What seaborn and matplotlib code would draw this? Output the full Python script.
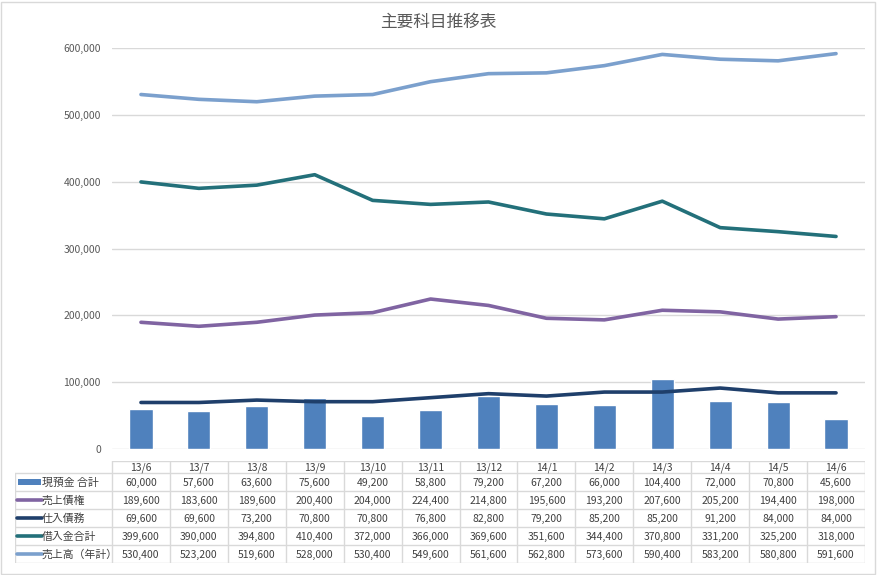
import numpy as np
import pandas as pd
import matplotlib
matplotlib.use("Agg")
import matplotlib.pyplot as plt
import seaborn as sns
from matplotlib.patches import Rectangle
from matplotlib.lines import Line2D

months = ["13/6", "13/7", "13/8", "13/9", "13/10", "13/11", "13/12",
          "14/1", "14/2", "14/3", "14/4", "14/5", "14/6"]
cash = [60000, 57600, 63600, 75600, 49200, 58800, 79200,
        67200, 66000, 104400, 72000, 70800, 45600]
receivables = [189600, 183600, 189600, 200400, 204000, 224400, 214800,
               195600, 193200, 207600, 205200, 194400, 198000]
payables = [69600, 69600, 73200, 70800, 70800, 76800, 82800,
            79200, 85200, 85200, 91200, 84000, 84000]
loans = [399600, 390000, 394800, 410400, 372000, 366000, 369600,
         351600, 344400, 370800, 331200, 325200, 318000]
sales = [530400, 523200, 519600, 528000, 530400, 549600, 561600,
         562800, 573600, 590400, 583200, 580800, 591600]

bar_name = "現預金 合計"
line_names = ["売上債権", "仕入債務", "借入金合計", "売上高（年計）"]
line_values = [receivables, payables, loans, sales]

bar_color = "#4F81BD"
line_colors = ["#8064A2", "#1F3F6B", "#23707A", "#7BA0CD"]

sns.set_theme(style="white")
plt.rcParams["font.family"] = ["Noto Sans CJK JP", "DejaVu Sans"]

W, H = 877, 575
fig = plt.figure(figsize=(W / 100, H / 100), dpi=100)

# outer chart border
fig.patches.append(Rectangle((1 / W, 1 / H), 1 - 3 / W, 1 - 3 / H, transform=fig.transFigure,
                             fill=False, edgecolor="#D9D9D9", linewidth=1))

left_px, right_px, top_px, bottom_px = 112, 865, 48, 449
ax = fig.add_axes([left_px / W, 1 - bottom_px / H,
                   (right_px - left_px) / W, (bottom_px - top_px) / H])

df = pd.DataFrame({"month": months, "cash": cash, "pos": np.arange(len(months))})
sns.barplot(data=df, x="month", y="cash", order=months, color=bar_color,
            saturation=1, width=0.4, ax=ax, zorder=2)

for name, vals, c in zip(line_names, line_values, line_colors):
    sns.lineplot(x=df["pos"], y=vals, color=c, linewidth=2.6, ax=ax, zorder=3)

ax.set_xlim(-0.5, len(months) - 0.5)
ax.set_ylim(0, 600000)
ax.set_yticks(np.arange(0, 600001, 100000))
ax.yaxis.set_major_formatter(matplotlib.ticker.FuncFormatter(lambda v, p: f"{int(v):,}"))
ax.tick_params(axis="y", labelsize=7.5, labelcolor="#595959", length=0, pad=8)
ax.set_xticks([])
ax.set_xlabel("")
ax.set_ylabel("")
ax.grid(axis="y", color="#D9D9D9", linewidth=1)
ax.set_axisbelow(True)
for s in ax.spines.values():
    s.set_visible(False)
ax.set_facecolor("none")

fig.text(0.5, 1 - 22 / H, "主要科目推移表", ha="center", va="center",
         fontsize=12, color="#595959")

# data table below the plot
col_w = (right_px - left_px) / len(months)
tab_left, tab_top, tab_bottom = 15, 461, 563
label_w = (left_px - tab_left) / col_w
tax = fig.add_axes([tab_left / W, 1 - tab_bottom / H,
                    (right_px - tab_left) / W, (tab_bottom - tab_top) / H])
tax.set_xlim(-0.5 - label_w, len(months) - 0.5)
tax.set_ylim(tab_bottom - tab_top, 0)
tax.axis("off")

head_h, row_h = 12, 18
grid_c = "#D9D9D9"
n = len(months)
x0 = -0.5 - label_w
xr = n - 0.5
total_h = head_h + row_h * 5
# horizontal lines
tax.plot([-0.5, xr], [0, 0], color=grid_c, lw=1)
for k in range(6):
    y = head_h + k * row_h
    tax.plot([x0, xr], [y, y], color=grid_c, lw=1)
# vertical lines
tax.plot([x0, x0], [head_h, total_h], color=grid_c, lw=1)
for i in range(n + 1):
    tax.plot([i - 0.5, i - 0.5], [0, total_h], color=grid_c, lw=1)

txt_kw = dict(fontsize=7.5, color="#404040", ha="center", va="center")
for i, m in enumerate(months):
    tax.text(i, head_h / 2 + 0.5, m, **txt_kw)

rows = [(bar_name, cash, bar_color, "bar")] + \
       [(nm, v, c, "line") for nm, v, c in zip(line_names, line_values, line_colors)]
for r, (nm, vals, c, kind) in enumerate(rows):
    yc = head_h + r * row_h + row_h / 2
    for i, v in enumerate(vals):
        tax.text(i, yc + 0.5, f"{v:,}", **txt_kw)
    gx0 = x0 + 3 / col_w
    gx1 = x0 + 26 / col_w
    if kind == "bar":
        tax.add_patch(Rectangle((gx0, yc - 3), gx1 - gx0, 6, color=c, lw=0))
    else:
        tax.add_line(Line2D([gx0 - 1 / col_w, gx1 + 1 / col_w], [yc, yc], color=c, lw=2.6))
    tax.text(gx1 + 1 / col_w, yc + 0.5, nm, fontsize=7.8, color="#404040", ha="left", va="center")

fig.savefig("out.png", dpi=100)
